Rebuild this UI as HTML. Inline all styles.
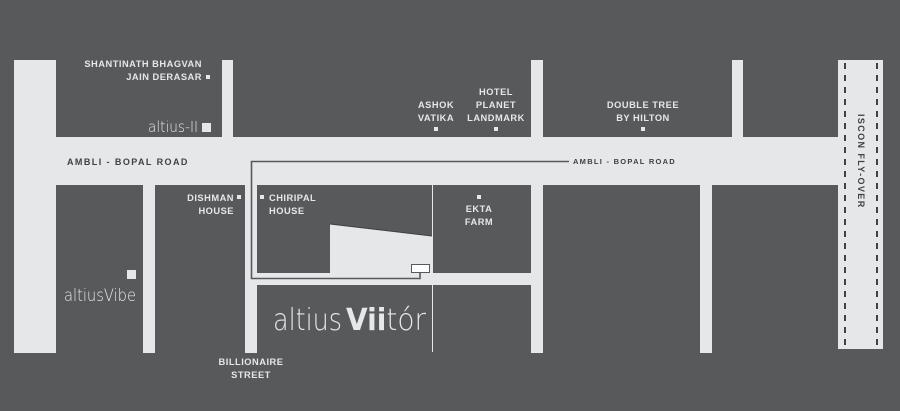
<!DOCTYPE html>
<html><head><meta charset="utf-8"><style>
html,body{margin:0;padding:0;background:#58595b;}
svg{display:block}
.t{font-family:"Liberation Sans",sans-serif;font-weight:bold;font-size:9.3px;fill:#e6e7e8;letter-spacing:0.5px}
.d{font-family:"Liberation Sans",sans-serif;font-weight:bold;font-size:8.5px;fill:#414042;letter-spacing:1.8px}
.l{font-family:"DejaVu Sans","Liberation Sans",sans-serif;font-weight:200;fill:#e6e7e8}
</style></head><body>
<svg width="900" height="411" viewBox="0 0 900 411" xmlns="http://www.w3.org/2000/svg">
<rect width="900" height="411" fill="#58595b"/>
<g fill="#e6e7e8">
<rect x="14" y="60" width="42" height="293"/>
<rect x="56" y="137" width="783" height="48"/>
<rect x="222" y="60" width="11" height="78"/>
<rect x="143" y="184" width="12" height="169"/>
<rect x="245" y="184" width="12" height="169"/>
<rect x="531" y="60" width="12" height="78"/>
<rect x="531" y="184" width="12" height="169"/>
<rect x="732" y="60" width="11" height="78"/>
<rect x="700" y="184" width="12" height="169"/>
<rect x="838" y="60" width="45" height="289"/>
<rect x="257" y="273" width="275" height="12"/>
<rect x="432" y="185" width="1" height="167"/>
<polygon points="330,224 432,236 432,273 330,273"/>
</g>
<polyline points="569,161.5 251.5,161.5 251.5,278.5 420,278.5 420,272" fill="none" stroke="#58595b" stroke-width="1.6"/>
<line x1="330" y1="224" x2="432" y2="236" stroke="#414042" stroke-width="1"/>
<rect x="411.5" y="264.5" width="18" height="8" fill="#fff" stroke="#58595b" stroke-width="1"/>
<line x1="845" y1="63" x2="845" y2="347" stroke="#414042" stroke-width="2" stroke-dasharray="6,6"/>
<line x1="877" y1="63" x2="877" y2="347" stroke="#414042" stroke-width="2" stroke-dasharray="6,6"/>
<g fill="#e6e7e8">
<rect x="206" y="75" width="4" height="4"/>
<rect x="202" y="123" width="9" height="9"/>
<rect x="237" y="195" width="4" height="4"/>
<rect x="260" y="195" width="4" height="4"/>
<rect x="127" y="270" width="9" height="9"/>
<rect x="434" y="127" width="4" height="4"/>
<rect x="494" y="127" width="4" height="4"/>
<rect x="641" y="127" width="4" height="4"/>
<rect x="477" y="195" width="4" height="4"/>
</g>
<g class="t">
<text x="202" y="67" text-anchor="end">SHANTINATH BHAGVAN</text>
<text x="202" y="80" text-anchor="end">JAIN DERASAR</text>
<text x="234" y="201" text-anchor="end">DISHMAN</text>
<text x="234" y="214" text-anchor="end">HOUSE</text>
<text x="269" y="201">CHIRIPAL</text>
<text x="269" y="214">HOUSE</text>
<text x="251" y="365" text-anchor="middle">BILLIONAIRE</text>
<text x="251" y="378" text-anchor="middle">STREET</text>
<text x="436" y="108" text-anchor="middle">ASHOK</text>
<text x="436" y="121" text-anchor="middle">VATIKA</text>
<text x="496" y="95" text-anchor="middle">HOTEL</text>
<text x="496" y="108" text-anchor="middle">PLANET</text>
<text x="496" y="121" text-anchor="middle">LANDMARK</text>
<text x="643" y="108" text-anchor="middle">DOUBLE TREE</text>
<text x="643" y="121" text-anchor="middle">BY HILTON</text>
<text x="479" y="212" text-anchor="middle">EKTA</text>
<text x="479" y="225" text-anchor="middle">FARM</text>
</g>
<text class="d" x="67" y="165" style="font-size:9px;letter-spacing:1.6px" textLength="122" lengthAdjust="spacing">AMBLI - BOPAL ROAD</text>
<text class="d" x="573" y="164" style="font-size:7.5px;letter-spacing:1.3px" textLength="103" lengthAdjust="spacing">AMBLI - BOPAL ROAD</text>
<text class="d" transform="translate(858,114) rotate(90)" style="font-size:9px;letter-spacing:1.8px" textLength="95" lengthAdjust="spacing">ISCON FLY-OVER</text>
<text class="l" x="148" y="132" font-size="15" textLength="50" lengthAdjust="spacingAndGlyphs">altius-II</text>
<text class="l" x="64" y="301" font-size="17" textLength="72" lengthAdjust="spacingAndGlyphs">altiusVibe</text>
<text class="l" x="273" y="330" font-size="30" textLength="69" lengthAdjust="spacingAndGlyphs">altius</text>
<text x="346" y="330" font-size="30" font-family="DejaVu Sans,sans-serif" fill="#e6e7e8" textLength="80" lengthAdjust="spacingAndGlyphs"><tspan font-weight="bold">Vii</tspan><tspan font-weight="200">tór</tspan></text>
</svg>
</body></html>
